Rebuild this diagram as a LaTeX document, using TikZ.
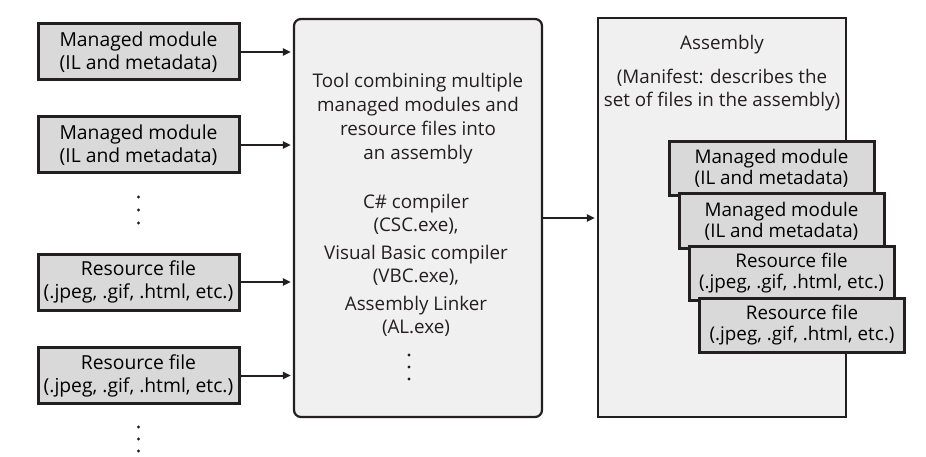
\documentclass[tikz,border=0pt]{standalone}
\usepackage{fontspec}
\setmainfont{Open Sans}
\usetikzlibrary{arrows.meta}
\definecolor{ink}{HTML}{231F20}
\definecolor{boxgray}{HTML}{D9D9D9}
\definecolor{panel}{HTML}{F0F0F0}
\tikzset{
  filebox/.style={draw=ink, line width=3pt, fill=boxgray, minimum width=201pt, minimum height=56pt, inner sep=0pt, align=center, font=\fontsize{19.3}{23}\selectfont},
  innerbox/.style={draw=ink, line width=3pt, fill=boxgray, minimum width=205pt, minimum height=54pt, inner sep=0pt, align=center, font=\fontsize{18.8}{21}\selectfont},
  panelbox/.style={draw=ink, line width=2.2pt, fill=panel, inner sep=0pt},
  txt/.style={align=center, inner sep=0pt, text=ink},
  arr/.style={draw=ink, line width=2pt, -{Triangle[length=8pt,width=7pt]}, shorten >=2pt},
  dot/.style={circle, fill=ink, inner sep=0pt, minimum size=3.4pt}
}
\begin{document}
\begin{tikzpicture}[x=1pt,y=-1pt]
\useasboundingbox (0,0) rectangle (926,457);
% left inputs
\node[filebox] (mm1) at (138.5,52) {Managed module\\(IL and metadata)};
\node[filebox] (mm2) at (138.5,145) {Managed module\\(IL and metadata)};
\node[filebox] (rf1) at (138.5,282) {Resource file\\(.jpeg, .gif, .html, etc.)};
\node[filebox] (rf2) at (138.5,375.5) {Resource file\\(.jpeg, .gif, .html, etc.)};
\node[dot] (ld1) at (138.5,197) {};
\node[dot] (ld2) at (138.5,210) {};
\node[dot] (ld3) at (138.5,223) {};
\node[dot] (bd1) at (138.5,427) {};
\node[dot] (bd2) at (138.5,439) {};
\node[dot] (bd3) at (138.5,451) {};
% tool box
\node[panelbox, rounded corners=7pt, minimum width=248pt, minimum height=398pt] (tool) at (418,218) {};
\node[txt, font=\fontsize{18.8}{24}\selectfont] (tooltxt) at (418,119) {Tool combining multiple\\managed modules and\\resource files into\\an assembly};
\node[txt, font=\fontsize{18.8}{23}\selectfont] (compilers) at (416,265) {C\# compiler\\(CSC.exe),\\[5pt]Visual Basic compiler\\(VBC.exe),\\[5pt]Assembly Linker\\(AL.exe)};
\node[dot] (md1) at (409,355) {};
\node[dot] (md2) at (409,367) {};
\node[dot] (md3) at (409,379) {};
% assembly box
\node[panelbox, minimum width=248pt, minimum height=399pt] (asm) at (722,217.5) {};
\node[txt, font=\fontsize{18.8}{23}\selectfont] (asmtitle) at (722,45) {Assembly};
\node[txt, font=\fontsize{18.8}{23}\selectfont] (manifest) at (722,90.5) {(Manifest: describes the\\set of files in the assembly)};
\node[innerbox] (amm1) at (771.5,168.5) {Managed module\\(IL and metadata)};
\node[innerbox] (amm2) at (781.5,221) {Managed module\\(IL and metadata)};
\node[innerbox] (arf1) at (791.5,273.5) {Resource file\\(.jpeg, .gif, .html, etc.)};
\node[innerbox] (arf2) at (802,325.5) {Resource file\\(.jpeg, .gif, .html, etc.)};
% connectors
\draw[arr] (mm1.east) -- (mm1.east -| tool.west);
\draw[arr] (mm2.east) -- (mm2.east -| tool.west);
\draw[arr] (rf1.east) -- (rf1.east -| tool.west);
\draw[arr] (rf2.east) -- (rf2.east -| tool.west);
\draw[arr] (tool.east) -- (tool.east -| asm.west);
\end{tikzpicture}
\end{document}
